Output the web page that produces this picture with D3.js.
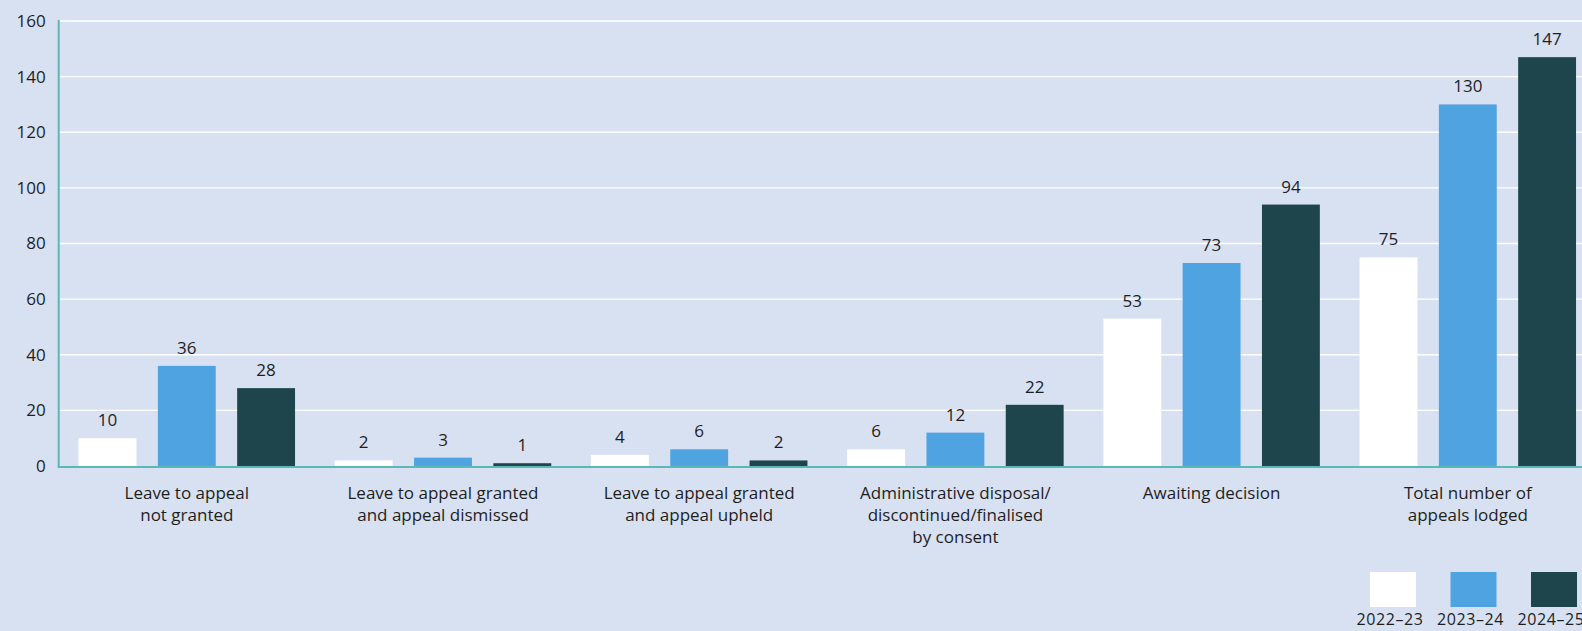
<!DOCTYPE html>
<html>
<head>
<meta charset="utf-8">
<script src="https://cdn.jsdelivr.net/npm/d3@7"></script>
<style>
  html, body { margin: 0; padding: 0; background: #D8E1F2; overflow: hidden; }
  svg { display: block; font-family: "Open Sans", Lato, sans-serif; }
</style>
</head>
<body>
<svg id="chart" width="1582" height="631"></svg>
<script>
// Appeal outcomes by financial year
const categories = [
  "Leave to appeal not granted",
  "Leave to appeal granted and appeal dismissed",
  "Leave to appeal granted and appeal upheld",
  "Administrative disposal/discontinued/finalised by consent",
  "Awaiting decision",
  "Total number of appeals lodged"
];
const categoryLines = [
  ["Leave to appeal", "not granted"],
  ["Leave to appeal granted", "and appeal dismissed"],
  ["Leave to appeal granted", "and appeal upheld"],
  ["Administrative disposal/", "discontinued/finalised", "by consent"],
  ["Awaiting decision"],
  ["Total number of", "appeals lodged"]
];
const years = ["2022–23", "2023–24", "2024–25"];
const values2022 = [10, 2, 4, 6, 53, 75];
const values2023 = [36, 3, 6, 12, 73, 130];
const values2024 = [28, 1, 2, 22, 94, 147];
const yTicks = [0, 20, 40, 60, 80, 100, 120, 140, 160];

const seriesValues = [values2022, values2023, values2024];
const colors = ["#FFFFFF", "#4FA3E1", "#1F454C"];
const textColor = "#1E1E1E";
const fontSize = 17;

const svg = d3.select("#chart");
const W = 1582;
const plotLeft = 58.7, plotTop = 21, plotBottom = 466;
// the plot runs past the right edge of the frame
const plotRight = plotLeft + 6 * 256.2;

const y = d3.scaleLinear().domain([0, 160]).range([plotBottom, plotTop]);
const x0 = d3.scaleBand().domain(categories).range([plotLeft, plotRight])
  .paddingInner(0.155).paddingOuter(0.0775);
const x1 = d3.scaleBand().domain(years).range([0, x0.bandwidth()]).paddingInner(0.27);

// gridlines
svg.append("g")
  .selectAll("line")
  .data(yTicks.filter(d => d > 0))
  .join("line")
  .attr("x1", plotLeft).attr("x2", W)
  .attr("y1", d => y(d)).attr("y2", d => y(d))
  .attr("stroke", "#FFFFFF").attr("stroke-width", 1.3);

// y axis labels
const yAxis = d3.axisLeft(y).tickValues(yTicks).tickSize(0).tickPadding(13);
const yg = svg.append("g").attr("transform", `translate(${plotLeft},0)`).call(yAxis);
yg.select(".domain").remove();
yg.selectAll("text")
  .attr("font-size", fontSize).attr("fill", textColor)
  .attr("font-family", "'Open Sans', Lato, sans-serif");

// bars
const groups = svg.append("g").selectAll("g")
  .data(categories)
  .join("g")
  .attr("transform", d => `translate(${x0(d)},0)`);

groups.selectAll("rect")
  .data((d, i) => years.map((yr, k) => ({ yr, v: seriesValues[k][i], k })))
  .join("rect")
  .attr("x", d => x1(d.yr))
  .attr("width", x1.bandwidth())
  .attr("y", d => y(d.v))
  .attr("height", d => plotBottom - y(d.v))
  .attr("fill", d => colors[d.k]);

groups.selectAll("text.val")
  .data((d, i) => years.map((yr, k) => ({ yr, v: seriesValues[k][i] })))
  .join("text")
  .attr("class", "val")
  .attr("x", d => x1(d.yr) + x1.bandwidth() / 2)
  .attr("y", d => y(d.v) - 12)
  .attr("text-anchor", "middle")
  .attr("font-size", fontSize)
  .attr("fill", textColor)
  .text(d => d.v);

// axis lines
svg.append("line")
  .attr("x1", plotLeft).attr("x2", plotLeft)
  .attr("y1", plotTop - 1).attr("y2", plotBottom + 1)
  .attr("stroke", "#5BB8B6").attr("stroke-width", 2);
svg.append("line")
  .attr("x1", plotLeft - 1).attr("x2", W)
  .attr("y1", plotBottom + 1).attr("y2", plotBottom + 1)
  .attr("stroke", "#5BB8B6").attr("stroke-width", 2.2);

// category labels
const xAxis = svg.append("g");
categories.forEach((c, i) => {
  const cx = x0(c) + x0.bandwidth() / 2;
  const t = xAxis.append("text")
    .attr("text-anchor", "middle")
    .attr("font-size", fontSize)
    .attr("fill", textColor);
  categoryLines[i].forEach((line, j) => {
    t.append("tspan").attr("x", cx).attr("y", 499 + j * 22).text(line);
  });
});

// legend (last entry runs off the frame edge)
const legend = svg.append("g");
const legendX = 1370, legendStep = 80.5;
years.forEach((yr, k) => {
  const lx = legendX + k * legendStep;
  legend.append("rect")
    .attr("x", lx).attr("y", 572)
    .attr("width", 46).attr("height", 35)
    .attr("fill", colors[k]);
  legend.append("text")
    .attr("x", lx + 20).attr("y", 625)
    .attr("text-anchor", "middle")
    .attr("font-size", 16)
    .attr("letter-spacing", 0.6)
    .attr("fill", textColor)
    .text(yr);
});
</script>
</body>
</html>
